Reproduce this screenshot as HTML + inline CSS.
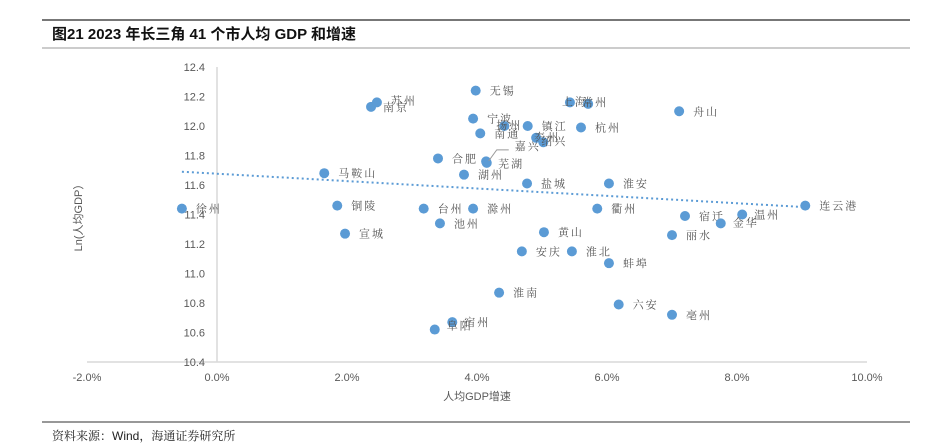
<!DOCTYPE html>
<html><head><meta charset="utf-8"><style>
body{margin:0;background:#fff;width:934px;height:445px;overflow:hidden;font-family:"Liberation Sans","Noto Sans CJK SC",sans-serif}
svg{display:block}
</style></head><body>
<svg id="chart" width="934" height="445" xmlns="http://www.w3.org/2000/svg">
<line x1="42" y1="20" x2="910" y2="20" stroke="#777" stroke-width="2"/>
<text x="52" y="39" font-size="15" font-weight="bold" fill="#111">图21  2023 年长三角 41 个市人均 GDP 和增速</text>
<line x1="42" y1="48" x2="910" y2="48" stroke="#bbb" stroke-width="1.5"/>
<line x1="42" y1="422" x2="910" y2="422" stroke="#777" stroke-width="1.5"/>
<text x="52" y="440" font-size="12" fill="#222" font-family="'Liberation Sans','Noto Serif CJK SC',serif">资料来源：Wind，海通证券研究所</text>
<g id="axes"></g>
<g id="marks"></g>
</svg>
<script>
const cities=["徐州","马鞍山","铜陵","宣城","南京","苏州","合肥","台州","池州","湖州","滁州","宁波","无锡","南通","芜湖","嘉兴","扬州","镇江","泰州","绍兴","杭州","上海","常州","舟山","盐城","淮安","衢州","宿迁","温州","金华","连云港","丽水","黄山","安庆","淮北","蚌埠","淮南","六安","亳州","宿州","阜阳"];
const growth=[-0.54,1.65,1.85,1.97,2.37,2.46,3.40,3.18,3.43,3.80,3.94,3.94,3.98,4.05,4.14,4.15,4.42,4.78,4.91,5.02,5.60,5.43,5.71,7.11,4.77,6.03,5.85,7.20,8.08,7.75,9.05,7.00,5.03,4.69,5.46,6.03,4.34,6.18,7.00,3.62,3.35];
const lnGdp=[11.44,11.68,11.46,11.27,12.13,12.16,11.78,11.44,11.34,11.67,11.44,12.05,12.24,11.95,11.76,11.75,12.00,12.00,11.92,11.89,11.99,12.16,12.15,12.10,11.61,11.61,11.44,11.39,11.40,11.34,11.46,11.26,11.28,11.15,11.15,11.07,10.87,10.79,10.72,10.67,10.62];
const xTicks=[-2,0,2,4,6,8,10];
const yTicks=[10.4,10.6,10.8,11.0,11.2,11.4,11.6,11.8,12.0,12.2,12.4];
const trendX=[-0.54,9.05];
const trendY=[11.69,11.45];
const labelOff={"苏州":[14,2],"南京":[12,4],"嘉兴":[28,-13],"扬州":[-8,3],"泰州":[-2,3],"绍兴":[-2,3],"上海":[-8,3],"常州":[-6,2],"温州":[12,4],"金华":[12,3],"宿州":[12,4],"阜阳":[12,0],"徐州":[14,4],"芜湖":[12,6]};
const X=v=>217+v*65, Y=v=>67+(12.4-v)*147.5;
const NS="http://www.w3.org/2000/svg";
function mk(t,a,p){const e=document.createElementNS(NS,t);for(const k in a)e.setAttribute(k,a[k]);p.appendChild(e);return e;}
const ax=document.getElementById('axes'), mg=document.getElementById('marks');
let e=mk('line',{x1:X(0),y1:Y(12.4),x2:X(0),y2:Y(10.4),stroke:'#d9d9d9','stroke-width':1.5},ax);


e=mk('line',{x1:X(-2),y1:Y(10.4),x2:X(10),y2:Y(10.4),stroke:'#d9d9d9','stroke-width':1.5},ax);


yTicks.forEach(v=>{const t=mk('text',{x:205,y:Y(v)+4,'text-anchor':'end','font-size':11,fill:'#595959'},ax);t.textContent=v.toFixed(1);

});
xTicks.forEach(v=>{const t=mk('text',{x:X(v),y:381,'text-anchor':'middle','font-size':11,fill:'#595959'},ax);t.textContent=v.toFixed(1)+'%';

});
e=mk('text',{x:X(4),y:400,'text-anchor':'middle','font-size':11,fill:'#595959'},ax);e.textContent='人均GDP增速';


e=mk('text',{x:0,y:0,'text-anchor':'middle','font-size':11,fill:'#595959',transform:'translate(82,215) rotate(-90)'},ax);e.textContent='Ln(人均GDP）';


e=mk('line',{x1:X(trendX[0]),y1:Y(trendY[0]),x2:X(trendX[1]),y2:Y(trendY[1]),stroke:'#5b9bd5','stroke-width':2,'stroke-dasharray':'2 3'},mg);


cities.forEach((c,i)=>{const cx=X(growth[i]),cy=Y(lnGdp[i]);
const d=mk('circle',{cx:cx,cy:cy,r:5,fill:'#5b9bd5'},mg);


const o=labelOff[c]||[14,4];
if(c==='嘉兴'){const l=mk('polyline',{points:`${cx+2},${cy-2} ${cx+10},${cy-13} ${cx+22},${cy-13}`,fill:'none',stroke:'#999','stroke-width':1},mg);

}
const t=mk('text',{x:cx+o[0],y:cy+o[1],'font-size':11,'letter-spacing':'2',fill:'#555','font-family':"'Noto Serif CJK SC',serif"},mg);t.textContent=c;

});
</script>
</body></html>
